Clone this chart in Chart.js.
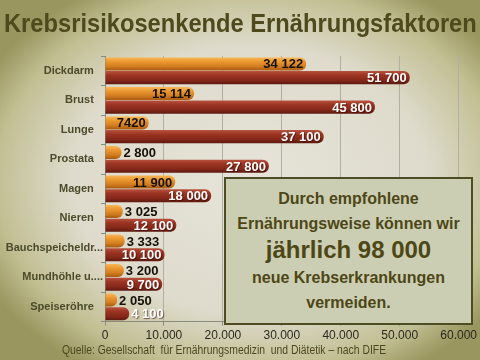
<!DOCTYPE html>
<html>
<head>
<meta charset="utf-8">
<script src="https://cdn.jsdelivr.net/npm/chart.js@4/dist/chart.umd.min.js"></script>
<style>
    html, body { margin: 0; padding: 0; }
    body {
        width: 480px; height: 360px; overflow: hidden; position: relative;
        background: radial-gradient(ellipse 62% 62% at 52% 50%, #e6e4d9 0%, #dedbcc 60%, #c2bf93 85%, #9a965f 100%);
        font-family: "Liberation Sans", Arial, sans-serif;
    }
    #wrap { position: absolute; left: 0; top: 0; width: 480px; height: 360px; }
    #title {
        position: absolute; left: 4px; top: 8px; white-space: nowrap;
        font-size: 25px; line-height: 30px; font-weight: bold; color: #4f4a1d;
        transform-origin: 0 0;
    }
    #note {
        position: absolute; left: 224px; top: 177px; width: 245px; height: 144px;
        background: #cbceb3; border: 2px solid #4e4c22;
        color: #4d4716; text-align: center; font-weight: bold;
    }
    #note div { position: absolute; left: 0; right: 0; white-space: nowrap; }
    #source {
        position: absolute; left: 62px; top: 343px; white-space: nowrap;
        font-family: "Liberation Sans Narrow", "Arial Narrow", "Liberation Sans", sans-serif;
        font-size: 12.5px; color: #4a4720;
        transform: scaleX(0.83); transform-origin: 0 0;
    }
</style>
</head>
<body>
<div id="wrap"><canvas id="chart" width="480" height="360"></canvas></div>
<div id="title">Krebsrisikosenkende Ernährungsfaktoren</div>
<div id="note">
    <div style="top: 11px; font-size: 16px;">Durch empfohlene</div>
    <div style="top: 36px; font-size: 16px;">Ernährungsweise können wir</div>
    <div style="top: 57px; font-size: 24px;">jährlich 98 000</div>
    <div style="top: 90px; font-size: 16px;">neue Krebserkrankungen</div>
    <div style="top: 115px; font-size: 16px;">vermeiden.</div>
</div>
<div id="source">Quelle: Gesellschaft&nbsp; für Ernährungsmedizin&nbsp; und Diätetik – nach DIFE</div>
<script>
    // categories and values
    const categories = ['Dickdarm', 'Brust', 'Lunge', 'Prostata', 'Magen', 'Nieren',
        'Bauchspeicheldr...', 'Mundhöhle u....', 'Speiseröhre'];
    const orangeValues = [34122, 15114, 7420, 2800, 11900, 3025, 3333, 3200, 2050];
    const redValues = [51700, 45800, 37100, 27800, 18000, 12100, 10100, 9700, 4100];
    const orangeLabels = ['34 122', '15 114', '7420', '2 800', '11 900', '3 025', '3 333', '3 200', '2 050'];
    const redLabels = ['51 700', '45 800', '37 100', '27 800', '18 000', '12 100', '10 100', '9 700', '4 100'];
    const xTicks = ['0', '10.000', '20.000', '30.000', '40.000', '50.000', '60.000'];

    const orangeStops = ['#f7b858', '#ec9a32', '#d27c1f', '#a85a12'];
    const redStops = ['#b85340', '#9d3523', '#85281a', '#5e1a10'];

    // stretch the title across the slide like the original
    const title = document.getElementById('title');
    title.style.transform = 'scaleX(' + (473 / title.offsetWidth) + ')';

    // give each bar a cylinder look
    const cylinderPlugin = {
        id: 'cylinder',
        beforeDatasetsDraw(chart) {
            const ctx = chart.ctx;
            chart.data.datasets.forEach((ds, di) => {
                const stops = di === 0 ? orangeStops : redStops;
                chart.getDatasetMeta(di).data.forEach(el => {
                    const top = el.y - el.height / 2;
                    const bottom = el.y + el.height / 2;
                    const g = ctx.createLinearGradient(0, top, 0, bottom);
                    g.addColorStop(0, stops[0]);
                    g.addColorStop(0.3, stops[1]);
                    g.addColorStop(0.7, stops[2]);
                    g.addColorStop(1, stops[3]);
                    el.options = Object.assign({}, el.options, { backgroundColor: g });
                });
            });
        }
    };

    const valueLabelPlugin = {
        id: 'valueLabels',
        afterDatasetsDraw(chart) {
            const ctx = chart.ctx;
            ctx.save();
            ctx.font = 'bold 13px "Liberation Sans", Arial, sans-serif';
            ctx.textBaseline = 'middle';
            chart.data.datasets.forEach((ds, di) => {
                const labels = di === 0 ? orangeLabels : redLabels;
                chart.getDatasetMeta(di).data.forEach((el, i) => {
                    const text = labels[i];
                    const w = ctx.measureText(text).width;
                    const len = el.x - el.base;
                    let x;
                    if (len > w + 8) {
                        ctx.textAlign = 'right';
                        x = el.x - 3;
                    } else {
                        ctx.textAlign = 'left';
                        x = el.x + 2;
                    }
                    if (di === 0) {
                        ctx.fillStyle = '#151008';
                        ctx.shadowColor = 'transparent';
                    } else {
                        ctx.fillStyle = '#ffffff';
                        ctx.shadowColor = 'rgba(60,10,0,0.6)';
                        ctx.shadowBlur = 1;
                        ctx.shadowOffsetX = 1;
                        ctx.shadowOffsetY = 1;
                    }
                    ctx.fillText(text, x, el.y + 1);
                    ctx.shadowColor = 'transparent';
                });
            });
            ctx.restore();
        }
    };

    const ctx = document.getElementById('chart').getContext('2d');
    const chart = new Chart(ctx, {
        type: 'bar',
        data: {
            labels: categories,
            datasets: [{
                label: 'Orange',
                data: orangeValues,
                backgroundColor: '#e8912b',
                borderRadius: 6,
                borderSkipped: 'start',
                categoryPercentage: 0.93,
                barPercentage: 0.95
            }, {
                label: 'Rot',
                data: redValues,
                backgroundColor: '#9a3222',
                borderRadius: 6,
                borderSkipped: 'start',
                categoryPercentage: 0.93,
                barPercentage: 0.95
            }]
        },
        options: {
            indexAxis: 'y',
            responsive: false,
            animation: false,
            layout: { padding: { left: 0, right: 21, top: 56, bottom: 14 } },
            plugins: {
                legend: { display: false },
                tooltip: { enabled: false }
            },
            scales: {
                x: {
                    min: 0,
                    max: 60000,
                    ticks: {
                        stepSize: 10000,
                        padding: 3,
                        color: '#2a2a20',
                        font: { family: '"Liberation Sans", Arial, sans-serif', size: 12 },
                        callback: (v, i) => xTicks[i]
                    },
                    grid: { color: '#b0afa2', tickLength: 4, tickColor: '#888' },
                    border: { color: '#8a8a80' }
                },
                y: {
                    afterFit: scale => { scale.width = 105; },
                    ticks: {
                        padding: -2,
                        color: '#4b4a2a',
                        font: { family: '"Liberation Sans", Arial, sans-serif', size: 11, weight: 'bold' },
                        // full names sit a little left of the truncated ones
                        callback: function (v) {
                            const name = this.getLabelForValue(v);
                            return name.endsWith('.') ? name : name + '   ';
                        }
                    },
                    grid: { drawOnChartArea: false, tickLength: 4, color: '#8a8a80' },
                    border: { color: '#8a8a80' }
                }
            }
        },
        plugins: [cylinderPlugin, valueLabelPlugin]
    });
</script>
</body>
</html>
